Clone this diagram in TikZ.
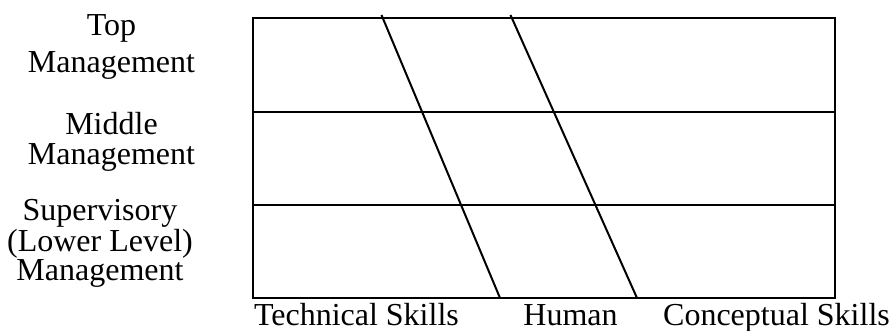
\documentclass[tikz,border=0pt]{standalone}
\usepackage{fontspec}
\setmainfont{Liberation Serif}
\usetikzlibrary{calc,positioning}

\begin{document}
\begin{tikzpicture}[x=1pt,y=-1pt,line width=2pt,
    lbl/.style={inner sep=0pt,anchor=base,font=\fontsize{32}{34}\selectfont},
    lvl/.style={lbl,align=center}]
  \useasboundingbox (0,0) rectangle (891,331);
  \coordinate (A) at (253,18);
  \coordinate (B) at (835,18);
  \coordinate (C) at (835,298);
  \coordinate (D) at (253,298);
  \draw (A)--(B)--(C)--(D)--cycle;
  \coordinate (E) at (253,112); \coordinate (F) at (835,112);
  \coordinate (G) at (253,205); \coordinate (H) at (835,205);
  \draw (E)--(F);
  \draw (G)--(H);
  % skill boundaries
  \coordinate (T1) at (381.5,15); \coordinate (B1) at (500,298);
  \coordinate (T2) at (510.5,15); \coordinate (B2) at (637,298);
  \draw (T1)--(B1);
  \draw (T2)--(B2);
  % levels (base = last line)
  \node[lvl,font=\fontsize{32}{37}\selectfont] (top) at (111.5,73) {Top\\Management};
  \node[lvl,font=\fontsize{32}{30}\selectfont] (mid) at (111.5,165) {Middle\\Management};
  \node[lvl,font=\fontsize{32}{29}\selectfont] (low) at (100,280) {Supervisory\\(Lower Level)\\Management};
  % skills
  \node[lbl,anchor=base west] (tech) at (253,325) {Technical Skills};
  \node[lbl] (human) at (570.5,325) {Human};
  \node[lbl] (concept) at (776.5,325) {Conceptual Skills};
\end{tikzpicture}
\end{document}
